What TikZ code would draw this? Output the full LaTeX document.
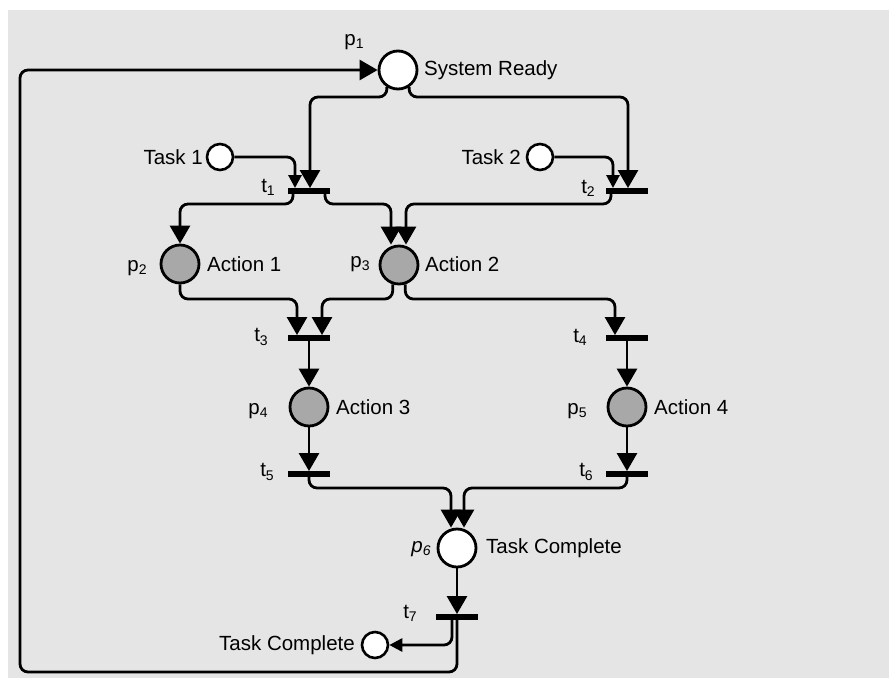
\documentclass[tikz,border=0pt]{standalone}
\usepackage{fontspec}
\setmainfont{Liberation Sans}
\usetikzlibrary{arrows.meta}
\definecolor{bg}{RGB}{229,229,229}
\definecolor{tok}{RGB}{168,168,168}
\newcommand\lbl[2]{#1\raisebox{-0.3ex}{\fontsize{14}{14}\selectfont #2}}
\begin{document}
\begin{tikzpicture}[x=1pt,y=-1pt,font=\fontsize{20.5}{22}\selectfont,
  place/.style={circle,draw,line width=2.8pt,minimum size=38pt,inner sep=0pt,fill=white},
  act/.style={place,fill=tok},
  smallplace/.style={circle,draw,line width=2.6pt,minimum size=26pt,inner sep=0pt,fill=white},
  trans/.style={rectangle,fill=black,minimum width=42pt,minimum height=5.5pt,inner sep=0pt},
  arcline/.style={line width=2.8pt,rounded corners=8pt},
  big/.style={arcline,-{Triangle[length=18pt,width=20pt]}},
  sml/.style={arcline,-{Triangle[length=13pt,width=13pt]}},
  txt/.style={inner sep=0pt}]
\useasboundingbox (0,0) rectangle (889,678);
\fill[white] (0,0) rectangle (889,678);
\fill[bg] (8,10) rectangle (889,678);

% places
\node[place] (p1) at (398,70) {};
\node[smallplace] (task1) at (220,157) {};
\node[smallplace] (task2) at (540,157) {};
\node[act] (p2) at (180,264) {};
\node[act] (p3) at (399,265) {};
\node[act] (p4) at (309,407) {};
\node[act] (p5) at (627,407) {};
\node[place] (p6) at (457,548) {};
\node[smallplace] (tc) at (375,645) {};

% transitions
\node[trans] (t1) at (309,191) {};
\node[trans] (t2) at (627,191) {};
\node[trans] (t3) at (309,338) {};
\node[trans] (t4) at (627,338) {};
\node[trans] (t5) at (309,474) {};
\node[trans] (t6) at (627,474) {};
\node[trans] (t7) at (457,617) {};

% arcs
\draw[big] (p1.237) |- (310,97) -- (310,0 |- t1.north);
\draw[big] (p1.303) |- (628,97) -- (628,0 |- t2.north);
\draw[sml] (task1.east) -| (295,0 |- t1.north);
\draw[sml] (task2.east) -| (613,0 |- t2.north);
\draw[big] (293,0 |- t1.south) |- (180,204) -- (p2.north);
\draw[big] (325,0 |- t1.south) |- (391,204) -- (391,0 |- p3.north);
\draw[big] (611,0 |- t2.south) |- (406,204) -- (406,0 |- p3.north);
\draw[big] (p2.south) |- (297,299) -- (297,0 |- t3.north);
\draw[big] (p3.252) |- (322,299) -- (322,0 |- t3.north);
\draw[big] (p3.288) |- (615,299) -- (615,0 |- t4.north);
\draw[big] (t3.south) -- (p4.north);
\draw[big] (t4.south) -- (p5.north);
\draw[big] (p4.south) -- (t5.north);
\draw[big] (p5.south) -- (t6.north);
\draw[big] (t5.south) |- (451,488) -- (451,0 |- p6.north);
\draw[big] (t6.south) |- (464,488) -- (464,0 |- p6.north);
\draw[big] (p6.south) -- (t7.north);
\draw[sml] (452,0 |- t7.south) |- (tc.east);
\draw[big] (457,0 |- t7.south) |- (20,672) |- (p1.west);

% labels
\node[txt] (lp1) at (354,42) {\lbl{p}{1}};
\node[txt,anchor=west] (lsr) at (424,70) {System Ready};
\node[txt,anchor=east] (lt1) at (203,157) {Task 1};
\node[txt,anchor=east] (lt2) at (521,157) {Task 2};
\node[txt] (ltt1) at (268,187) {\lbl{t}{1}};
\node[txt] (ltt2) at (588,188) {\lbl{t}{2}};
\node[txt] (lp2) at (137,268) {\lbl{p}{2}};
\node[txt,anchor=west] (la1) at (207,264) {Action 1};
\node[txt] (lp3) at (360,264) {\lbl{p}{3}};
\node[txt,anchor=west] (la2) at (425,264) {Action 2};
\node[txt] (ltt3) at (261,337) {\lbl{t}{3}};
\node[txt] (ltt4) at (580,337) {\lbl{t}{4}};
\node[txt] (lp4) at (258,411) {\lbl{p}{4}};
\node[txt,anchor=west] (la3) at (336,407) {Action 3};
\node[txt] (lp5) at (577,411) {\lbl{p}{5}};
\node[txt,anchor=west] (la4) at (654,407) {Action 4};
\node[txt] (ltt5) at (267,472) {\lbl{t}{5}};
\node[txt] (ltt6) at (586,472) {\lbl{t}{6}};
\node[txt] (lp6) at (421,549) {\textit{p}\raisebox{-0.3ex}{\fontsize{14}{14}\selectfont\itshape 6}};
\node[txt,anchor=west] (ltc1) at (486,548) {Task Complete};
\node[txt] (ltt7) at (410,613) {\lbl{t}{7}};
\node[txt,anchor=east] (ltc2) at (355,645) {Task Complete};
\end{tikzpicture}
\end{document}
